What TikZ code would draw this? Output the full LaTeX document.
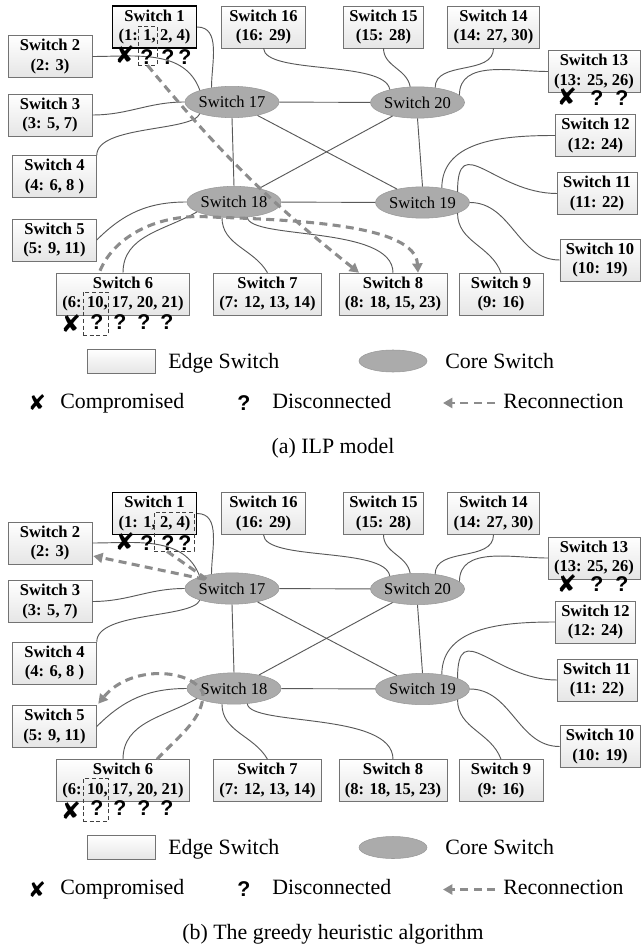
\documentclass[tikz,border=0pt]{standalone}
\usepackage{fontspec}
\setmainfont{Liberation Serif}
\newfontfamily\marksf{Liberation Sans}
\newfontfamily\dingsf{DejaVu Sans}
\usetikzlibrary{shapes.geometric,arrows.meta,calc}

\begin{document}
\begin{tikzpicture}[x=0.75pt, y=-0.75pt,
  esw/.style={rectangle, draw=black!55, top color=white, bottom color=black!10,
              font=\fontsize{12.4}{14.3}\selectfont\bfseries, align=center,
              inner xsep=4.5pt, inner ysep=0pt, minimum width=63pt, minimum height=31.5pt},
  csw/.style={ellipse, draw=black!40, fill=black!33, inner sep=0pt,
              font=\fontsize{12.4}{14.3}\selectfont, minimum width=70.5pt, minimum height=23.5pt},
  lnk/.style={draw=black!65, line width=0.7pt},
  rec/.style={draw=black!45, line width=2.3pt, dash pattern=on 6pt off 4pt,
              -{Triangle[length=7pt,width=7.5pt]}},
  hl/.style={draw=black!75, dash pattern=on 3pt off 2pt, line width=0.5pt, inner sep=0pt},
  qm/.style={font=\marksf\fontsize{16}{16}\selectfont\bfseries, inner sep=0pt},
  xm/.style={font=\dingsf\fontsize{18}{18}\selectfont, inner sep=0pt},
  lbl/.style={font=\fontsize{16.4}{18}\selectfont, anchor=base west, inner sep=0pt},
]
\useasboundingbox (0,0) rectangle (641,948);

\foreach \p/\dy/\cap in {a/0/{(a) ILP model}, b/486.5/{(b) The greedy heuristic algorithm}} {
\begin{scope}[shift={(0,\dy)}]
% Edge switches
\node[esw, draw=black, line width=0.9pt] (\p1) at (154.5,27) {Switch 1\\(1: 1, 2, 4)};
\node[esw] (\p2) at (50,56.5) {Switch 2\\(2: 3)};
\node[esw] (\p3) at (50,115) {Switch 3\\(3: 5, 7)};
\node[esw] (\p4) at (54.5,176.5) {Switch 4\\(4: 6, 8 )};
\node[esw] (\p5) at (54.5,240) {Switch 5\\(5: 9, 11)};
\node[esw] (\p6) at (123,294) {Switch 6\\(6: 10, 17, 20, 21)};
\node[esw] (\p7) at (267.5,294) {Switch 7\\(7: 12, 13, 14)};
\node[esw] (\p8) at (393,294) {Switch 8\\(8: 18, 15, 23)};
\node[esw] (\p9) at (501,294) {Switch 9\\(9: 16)};
\node[esw, minimum width=0pt] (\p10) at (600,260) {Switch 10\\(10: 19)};
\node[esw, minimum width=0pt] (\p11) at (597,193.5) {Switch 11\\(11: 22)};
\node[esw, minimum width=0pt] (\p12) at (595.5,135.5) {Switch 12\\(12: 24)};
\node[esw] (\p13) at (594,71.5) {Switch 13\\(13: 25, 26)};
\node[esw] (\p14) at (493.5,27) {Switch 14\\(14: 27, 30)};
\node[esw, minimum width=0pt] (\p15) at (383.5,27) {Switch 15\\(15: 28)};
\node[esw] (\p16) at (263.5,27) {Switch 16\\(16: 29)};

% Core switches
\node[csw] (\p17) at (232,102) {Switch 17};
\node[csw] (\p20) at (417.5,102.5) {Switch 20};
\node[csw] (\p18) at (234,202) {Switch 18};
\node[csw] (\p19) at (422.5,202.5) {Switch 19};

% Links
\draw[lnk] (\p17) -- (\p20);
\draw[lnk] (\p17.south) -- (\p18.north);
\draw[lnk] (\p20.south) -- (\p19.north);
\draw[lnk] (\p18) -- (\p19);
\draw[lnk] (\p17) -- (\p19);
\draw[lnk] (\p20) -- (\p18);
\draw[lnk] (\p1.east) to[out=0,in=90] (\p17.145);
\draw[lnk] (\p2.east) to[out=0,in=110] (\p17.160);
\draw[lnk] (\p3.east) to[out=0,in=180] (\p17.west);
\draw[lnk] (\p4.north east) .. controls (97,125) and (192,132) .. (\p17.200);
\draw[lnk] (\p16.south) .. controls (265,75) and (385,60) .. (\p20.155);
\draw[lnk] (\p15.south) to[out=-90,in=100] (\p20.115);
\draw[lnk] (\p14.south) to[out=-90,in=90] (\p20.40);
\draw[lnk] (\p13.west) to[out=180,in=90] (\p20.10);
\draw[lnk] (\p12.west) to[out=180,in=90] (\p19.37);
\draw[lnk] (\p11.west) to[out=180,in=90,looseness=1.6] (\p19.17);
\draw[lnk] (\p10.west) to[out=180,in=0] (\p19.east);
\draw[lnk] (\p9.north) to[out=110,in=-90] (\p19.-17);
\draw[lnk] (\p8.north) .. controls (393,225) and (250,240) .. (\p18.-49);
\draw[lnk] (\p7.north) to[out=120,in=-90] (\p18.232);
\draw[lnk] (\p6.north) to[out=90,in=210] (\p18.195);
\draw[lnk] (\p5.east) to[out=45,in=180] (\p18.west);

% Compromised / disconnected ports
\node[xm] (\p1x) at (125,55) {✘};
\foreach \n/\xx in {1/147,2/168,3/185} \node[qm] (\p1q\n) at (\xx,57) {?};
\node[xm] (\p13x) at (567,97) {✘};
\foreach \n/\xx in {1/597,2/622} \node[qm] (\p13q\n) at (\xx,98) {?};
\node[xm] (\p6x) at (71,324) {✘};
\foreach \n/\xx in {1/97,2/120,3/144,4/167} \node[qm] (\p6q\n) at (\xx,322) {?};
\node[hl, minimum width=18.75pt, minimum height=32.25pt] (\p6d) at (95.5,313.5) {};

% Legend
\node[esw, minimum width=51pt, minimum height=18pt] (\p LE) at (121,361) {};
\node[lbl] (\p LEt) at (168,368) {Edge Switch};
\node[csw, minimum width=51pt, minimum height=16.5pt] (\p LC) at (393,361) {};
\node[lbl] (\p LCt) at (445,368) {Core Switch};
\node[xm, font=\dingsf\fontsize{16}{16}\selectfont] (\p LX) at (37,403) {✘};
\node[lbl] (\p LXt) at (60,408) {Compromised};
\node[qm] (\p LQ) at (244,403) {?};
\node[lbl] (\p LQt) at (272,408) {Disconnected};
\coordinate (\p LR1) at (495,403);
\coordinate (\p LR0) at (443,403);
\draw[rec, line width=2pt] (\p LR1) -- (\p LR0);
\node[lbl] (\p LRt) at (503,408) {Reconnection};
\node[lbl, anchor=base] (\p cap) at (333,453) {\cap};
\end{scope}
}

% Reconnections (a)
\node[hl, minimum width=14.25pt, minimum height=29.25pt] (a1d) at (147.5,45.5) {};
\draw[rec] (a1d.south) to[bend right=6] ($(a8.north)+(-34,0)$);
\draw[rec] ($(a6.north)+(-23,-2)$) .. controls (115,235) and (160,213) .. (210,217)
  .. controls (300,220) and (415,225) .. ($(a8.north)+(25,0)$);

% Reconnections (b)
\node[hl, minimum width=30pt, minimum height=29.25pt] (b1d) at (174,531.5) {};
\draw[rec] ($(b1d.south)+(-7,0)$) -- ($(b17)+(-24,-8.5)$) -- ($(b2.east)+(1,13)$);
\draw[rec] ($(b6.north)+(34,0)$) .. controls (180,735) and (204,718) .. ($(b18)+(-31,4)$)
  .. controls (190,668) and (130,665) .. ($(b5.north east)+(1.5,-1.5)$);
\end{tikzpicture}
\end{document}
